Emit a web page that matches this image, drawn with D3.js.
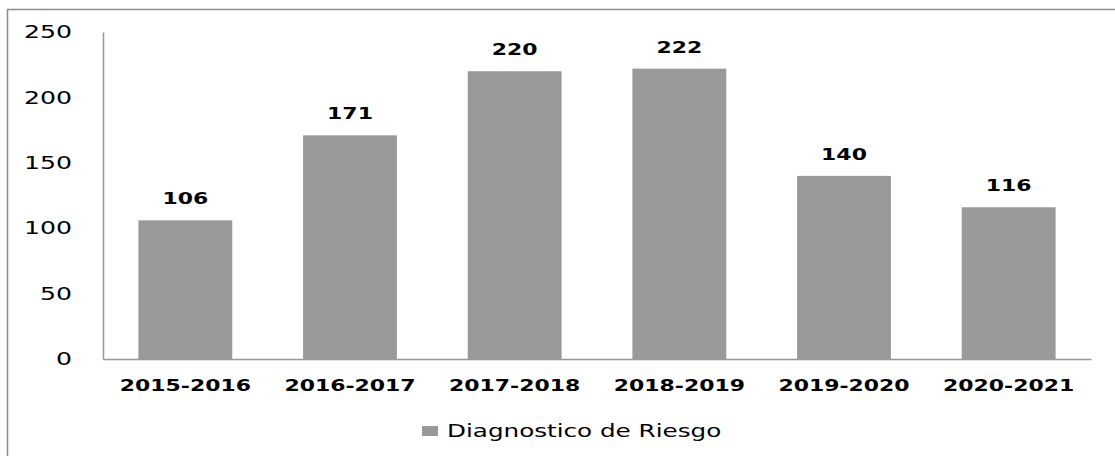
<!DOCTYPE html>
<html lang="en">
<head>
    <meta charset="utf-8">
    <style type="text/css">
        body { margin: 0; background-color: #fff; }
        svg { display: block; }
        text { font-family: "DejaVu Sans", Verdana, sans-serif; fill: #000; }
    </style>
    <script src="https://d3js.org/d3.v7.min.js"></script>
    <title>Diagnostico de Riesgo</title>
</head>
<body>
    <div id="canvas"></div>
    <script type="text/JavaScript">

        // data read off the reference
        var categories = ["2015-2016", "2016-2017", "2017-2018", "2018-2019", "2019-2020", "2020-2021"];
        var values = [106, 171, 220, 222, 140, 116];
        var yTicks = [0, 50, 100, 150, 200, 250];
        var seriesName = "Diagnostico de Riesgo";

        var width = 1115, height = 456;
        var margin = { top: 32, left: 103, right: 24, bottom: 97 };

        var svg = d3.select("#canvas")
            .append("svg")
            .attr("width", width)
            .attr("height", height);

        // outer frame (cut off on the right and bottom)
        svg.append("rect")
            .attr("x", 7.5).attr("y", 9.5)
            .attr("width", width + 10).attr("height", height + 10)
            .attr("fill", "none")
            .attr("stroke", "#8c8c8c")
            .attr("stroke-width", 1.5);

        var x = d3.scaleBand()
            .domain(categories)
            .range([margin.left, width - margin.right])
            .paddingInner(0.43)
            .paddingOuter(0.215);

        var y = d3.scaleLinear()
            .domain([0, 250])
            .range([height - margin.bottom, margin.top]);

        // text in the reference is drawn wider than normal, so stretch it
        function label(g, tx, ty, str, size, weight, anchor, sx) {
            return g.append("text")
                .attr("transform", "translate(" + tx + "," + ty + ") scale(" + sx + ",1)")
                .attr("text-anchor", anchor)
                .attr("dy", "0.36em")
                .style("font-size", size + "px")
                .style("font-weight", weight)
                .text(str);
        }

        var g = svg.append("g");

        // y axis
        var yAxis = d3.axisLeft(y).tickValues(yTicks).tickSize(0).tickFormat("");
        g.append("g")
            .attr("transform", "translate(" + margin.left + ",0)")
            .call(yAxis)
            .call(function(a) { a.select(".domain").attr("stroke", "#999").attr("stroke-width", 1.5); });
        yTicks.forEach(function(t) {
            label(g, 72, y(t), t, 17, "normal", "end", 1.48);
        });

        // bars
        g.selectAll("rect.bar")
            .data(values)
            .enter().append("rect")
            .attr("class", "bar")
            .attr("x", function(d, i) { return x(categories[i]); })
            .attr("y", function(d) { return y(d); })
            .attr("width", x.bandwidth())
            .attr("height", function(d) { return y(0) - y(d); })
            .attr("fill", "#999999");

        // x axis line
        var xAxis = d3.axisBottom(x).tickSize(0).tickFormat("");
        g.append("g")
            .attr("transform", "translate(0," + y(0) + ")")
            .call(xAxis)
            .call(function(a) { a.select(".domain").attr("stroke", "#999").attr("stroke-width", 1.5); });

        // category labels
        categories.forEach(function(c) {
            label(g, x(c) + x.bandwidth() / 2, y(0) + 26, c, 16.5, "bold", "middle", 1.33);
        });

        // value labels
        values.forEach(function(v, i) {
            label(g, x(categories[i]) + x.bandwidth() / 2, y(v) - 22, v, 16.5, "bold", "middle", 1.33);
        });

        // legend
        var legend = svg.append("g").attr("transform", "translate(422,431)");
        legend.append("rect")
            .attr("x", 0).attr("y", -5)
            .attr("width", 16).attr("height", 10)
            .attr("fill", "#999999");
        label(legend, 25, 0, seriesName, 17, "normal", "start", 1.45);

    </script>
</body>
</html>
